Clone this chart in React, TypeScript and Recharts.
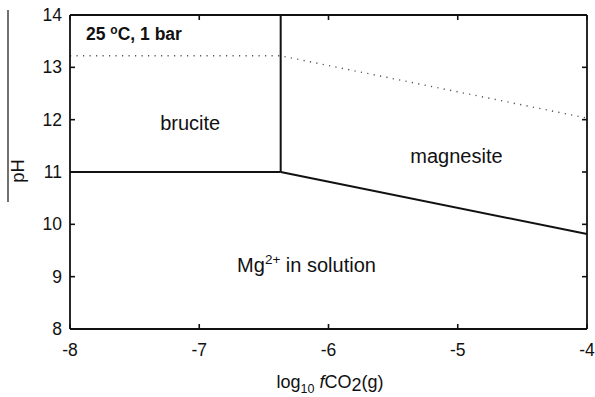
import React from "react";
import { LineChart, Line, XAxis, YAxis, ReferenceDot } from "recharts";

// log10 fCO2(g) axis and pH axis ticks
const co2Ticks = [-8, -7, -6, -5, -4];
const phTicks = [8, 9, 10, 11, 12, 13, 14];

// phase boundaries at 25 °C, 1 bar
const bruciteSolutionCo2 = [-8, -6.37];
const bruciteSolutionPh = [11, 11];
const magnesiteSolutionCo2 = [-6.37, -4];
const magnesiteSolutionPh = [11, 9.815];
const bruciteMagnesiteCo2 = [-6.37, -6.37];
const bruciteMagnesitePh = [11, 14];
const dottedCo2 = [-8, -6.37, -4];
const dottedPh = [13.22, 13.22, 12.03];

const zip = (xs: number[], ys: number[]) => xs.map((x, i) => ({ co2: x, ph: ys[i] }));

const FONT = "'Liberation Sans', Arial, sans-serif";
const INK = "#111";

const BottomTick = (props: any) => {
  const { x, y, payload } = props;
  return (
    <g>
      <line x1={x} y1={y} x2={x} y2={y - 5} stroke={INK} strokeWidth={1.6} />
      <text x={x} y={y + 27} textAnchor="middle" fontSize={17.5} fontFamily={FONT} fill={INK}>
        {payload.value}
      </text>
    </g>
  );
};

const TopTick = (props: any) => (
  <line x1={props.x} y1={props.y} x2={props.x} y2={props.y + 5} stroke={INK} strokeWidth={1.6} />
);

const LeftTick = (props: any) => {
  const { x, y, payload } = props;
  return (
    <g>
      <line x1={x} y1={y} x2={x + 5} y2={y} stroke={INK} strokeWidth={1.6} />
      <text x={x - 8} y={y + 6} textAnchor="end" fontSize={17.5} fontFamily={FONT} fill={INK}>
        {payload.value}
      </text>
    </g>
  );
};

const RightTick = (props: any) => (
  <line x1={props.x} y1={props.y} x2={props.x - 5} y2={props.y} stroke={INK} strokeWidth={1.6} />
);

const textAt =
  (content: React.ReactNode, anchor: "start" | "middle", size: number, bold = false) =>
  (props: any) => {
    const { x, y } = props.viewBox;
    return (
      <text
        x={x}
        y={y}
        textAnchor={anchor}
        fontSize={size}
        fontWeight={bold ? "bold" : "normal"}
        fontFamily={FONT}
        fill={INK}
      >
        {content}
      </text>
    );
  };

const YLabel = () => (
  <g>
    <line x1={8} y1={10} x2={8} y2={202} stroke={INK} strokeWidth={1.2} />
    <text
      x={0}
      y={0}
      transform="translate(24,171) rotate(-90)"
      textAnchor="middle"
      fontSize={18.5}
      fontFamily={FONT}
      fill={INK}
    >
      pH
    </text>
  </g>
);

const XLabel = () => (
  <text x={330} y={388} textAnchor="middle" fontSize={18} fontFamily={FONT} fill={INK}>
    log
    <tspan fontSize={12.5} dy={5}>10</tspan>
    <tspan dy={-5}> </tspan>
    <tspan fontStyle="italic">f</tspan>
    CO
    <tspan dy={3}>2</tspan>
    <tspan dy={-3}>(g)</tspan>
  </text>
);

export default function App() {
  return (
    <div style={{ position: "absolute", left: 0, top: 0, background: "#fff" }}>
      <LineChart width={595} height={397} margin={{ top: 14, right: 7, bottom: 38, left: 30 }}>
        <XAxis
          xAxisId="b"
          dataKey="co2"
          type="number"
          domain={[-8, -4]}
          ticks={co2Ticks}
          height={30}
          tickSize={0}
          tickMargin={0}
          tickLine={false}
          axisLine={{ stroke: INK, strokeWidth: 1.8 }}
          tick={BottomTick}
          label={{ content: XLabel }}
        />
        <XAxis
          xAxisId="t"
          dataKey="co2"
          orientation="top"
          type="number"
          domain={[-8, -4]}
          ticks={co2Ticks}
          height={1}
          tickSize={0}
          tickMargin={0}
          tickLine={false}
          axisLine={{ stroke: INK, strokeWidth: 1.8 }}
          tick={TopTick}
        />
        <YAxis
          yAxisId="l"
          type="number"
          domain={[8, 14]}
          ticks={phTicks}
          width={40}
          tickSize={0}
          tickMargin={0}
          tickLine={false}
          axisLine={{ stroke: INK, strokeWidth: 1.8 }}
          tick={LeftTick}
          label={{ content: YLabel }}
        />
        <YAxis
          yAxisId="r"
          orientation="right"
          type="number"
          domain={[8, 14]}
          ticks={phTicks}
          width={1}
          tickSize={0}
          tickMargin={0}
          tickLine={false}
          axisLine={{ stroke: INK, strokeWidth: 1.8 }}
          tick={RightTick}
        />

        {/* invisible series so the top and right frame axes are drawn */}
        <Line
          xAxisId="t"
          yAxisId="r"
          data={zip(dottedCo2, dottedPh)}
          dataKey="ph"
          stroke="none"
          dot={false}
          activeDot={false}
          isAnimationActive={false}
        />

        <Line
          xAxisId="b"
          yAxisId="l"
          data={zip(dottedCo2, dottedPh)}
          dataKey="ph"
          type="linear"
          stroke="#555"
          strokeWidth={1.4}
          strokeDasharray="1.2 5.3"
          dot={false}
          isAnimationActive={false}
        />
        <Line
          xAxisId="b"
          yAxisId="l"
          data={zip(bruciteSolutionCo2, bruciteSolutionPh)}
          dataKey="ph"
          type="linear"
          stroke={INK}
          strokeWidth={2}
          dot={false}
          isAnimationActive={false}
        />
        <Line
          xAxisId="b"
          yAxisId="l"
          data={zip(magnesiteSolutionCo2, magnesiteSolutionPh)}
          dataKey="ph"
          type="linear"
          stroke={INK}
          strokeWidth={2}
          dot={false}
          isAnimationActive={false}
        />
        <Line
          xAxisId="b"
          yAxisId="l"
          data={zip(bruciteMagnesiteCo2, bruciteMagnesitePh)}
          dataKey="ph"
          type="linear"
          stroke={INK}
          strokeWidth={2}
          dot={false}
          isAnimationActive={false}
        />

        <ReferenceDot
          xAxisId="b"
          yAxisId="l"
          x={-7.876}
          y={13.52}
          r={0}
          ifOverflow="visible"
          label={{
            content: textAt(
              <>
                25 <tspan fontSize={12} dy={-6}>o</tspan>
                <tspan dy={6}>C, 1 bar</tspan>
              </>,
              "start",
              17.5,
              true
            ),
          }}
        />
        <ReferenceDot
          xAxisId="b"
          yAxisId="l"
          x={-7.07}
          y={11.8}
          r={0}
          ifOverflow="visible"
          label={{ content: textAt("brucite", "middle", 20) }}
        />
        <ReferenceDot
          xAxisId="b"
          yAxisId="l"
          x={-5.01}
          y={11.17}
          r={0}
          ifOverflow="visible"
          label={{ content: textAt("magnesite", "middle", 20) }}
        />
        <ReferenceDot
          xAxisId="b"
          yAxisId="l"
          x={-6.17}
          y={9.09}
          r={0}
          ifOverflow="visible"
          label={{
            content: textAt(
              <>
                Mg
                <tspan fontSize={13.5} dy={-8}>2+</tspan>
                <tspan dy={8}> in solution</tspan>
              </>,
              "middle",
              20
            ),
          }}
        />
      </LineChart>
    </div>
  );
}
